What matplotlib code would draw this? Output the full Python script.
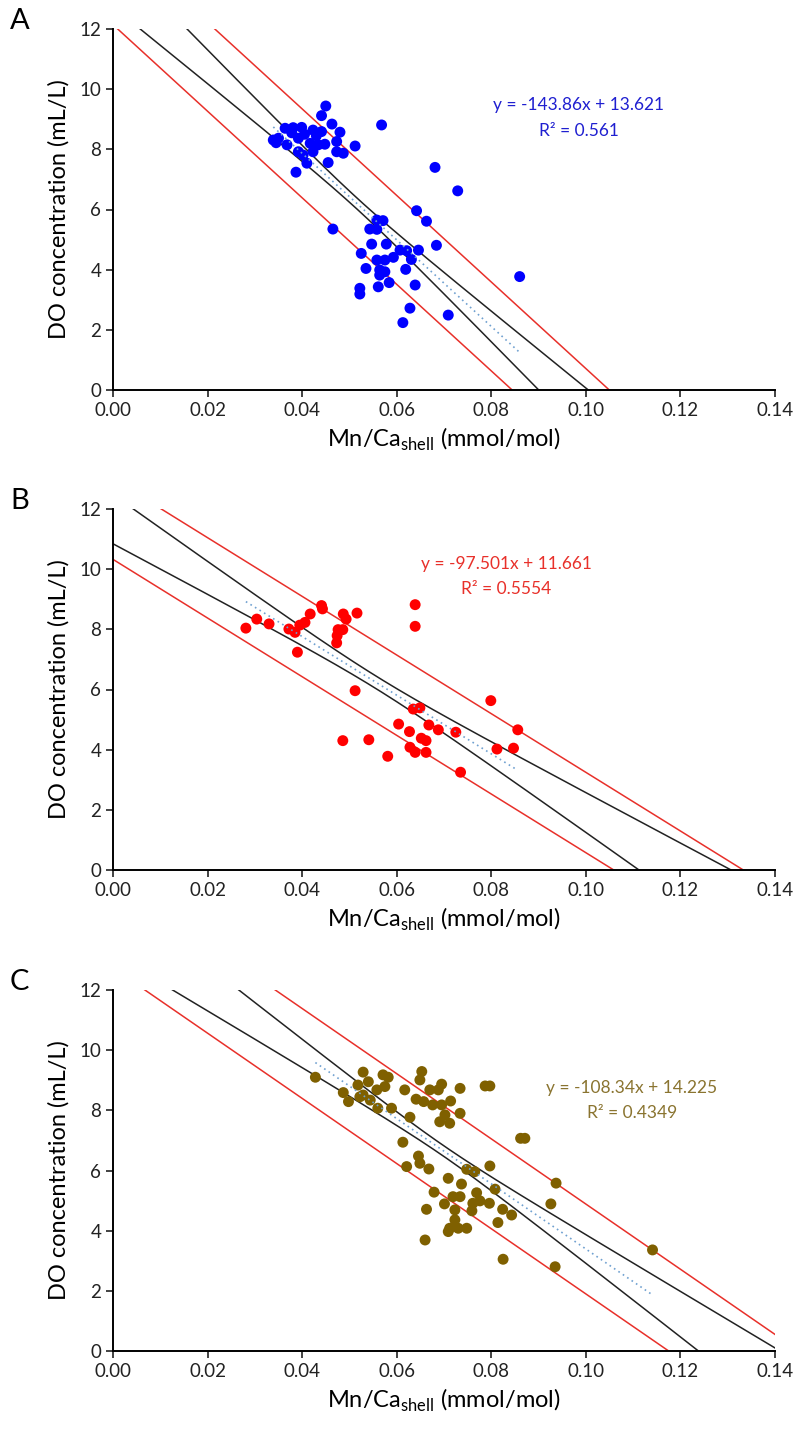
import matplotlib.pyplot as plt
import numpy as np

plt.rcParams["font.family"] = ["Lato", "DejaVu Sans"]

# Panel A: Mn/Ca (mmol/mol) vs dissolved oxygen (mL/L)
a_mnca = [0.0450, 0.0441, 0.0463, 0.0568, 0.0364, 0.0381, 0.0399, 0.0423, 0.0441, 0.0480,
          0.0339, 0.0350, 0.0368, 0.0392, 0.0417, 0.0434, 0.0448, 0.0473, 0.0512, 0.0473,
          0.0487, 0.0392, 0.0402, 0.0423, 0.0410, 0.0455, 0.0387, 0.0345, 0.0405, 0.0430,
          0.0378, 0.0681, 0.0729, 0.0860, 0.0642, 0.0663, 0.0465, 0.0558, 0.0571, 0.0543,
          0.0558, 0.0684, 0.0547, 0.0578, 0.0607, 0.0621, 0.0646, 0.0525, 0.0558, 0.0575,
          0.0593, 0.0631, 0.0535, 0.0564, 0.0575, 0.0619, 0.0564, 0.0584, 0.0561, 0.0639,
          0.0522, 0.0522, 0.0628, 0.0613, 0.0709]
a_do = [9.44, 9.12, 8.84, 8.81, 8.70, 8.72, 8.73, 8.64, 8.59, 8.57,
        8.31, 8.37, 8.15, 8.37, 8.20, 8.15, 8.17, 8.26, 8.11, 7.92,
        7.87, 7.92, 7.81, 7.92, 7.54, 7.56, 7.24, 8.22, 8.50, 8.45,
        8.55, 7.40, 6.62, 3.77, 5.96, 5.61, 5.35, 5.65, 5.63, 5.35,
        5.34, 4.81, 4.85, 4.85, 4.65, 4.63, 4.65, 4.54, 4.32, 4.32,
        4.41, 4.34, 4.04, 3.99, 3.93, 4.01, 3.82, 3.57, 3.43, 3.49,
        3.38, 3.19, 2.72, 2.24, 2.49]
a_slope, a_icept, a_r2 = -143.86, 13.621, 0.561

# Panel B
b_mnca = [0.0281, 0.0304, 0.0330, 0.0372, 0.0385, 0.0395, 0.0406, 0.0390, 0.0417, 0.0441,
          0.0443, 0.0487, 0.0493, 0.0516, 0.0476, 0.0486, 0.0474, 0.0473, 0.0639, 0.0639,
          0.0512, 0.0799, 0.0856, 0.0847, 0.0812, 0.0635, 0.0649, 0.0668, 0.0688, 0.0725,
          0.0604, 0.0627, 0.0652, 0.0662, 0.0486, 0.0541, 0.0628, 0.0639, 0.0662, 0.0581,
          0.0735]
b_do = [8.04, 8.34, 8.18, 8.01, 7.90, 8.14, 8.23, 7.24, 8.51, 8.79,
        8.68, 8.51, 8.34, 8.54, 7.99, 7.99, 7.79, 7.55, 8.82, 8.10,
        5.96, 5.63, 4.66, 4.05, 4.02, 5.35, 5.39, 4.82, 4.66, 4.58,
        4.85, 4.60, 4.38, 4.30, 4.30, 4.33, 4.08, 3.91, 3.91, 3.78,
        3.25]
b_slope, b_icept, b_r2 = -97.501, 11.661, 0.5554

# Panel C
c_mnca = [0.0428, 0.0529, 0.0518, 0.0540, 0.0571, 0.0582, 0.0575, 0.0558, 0.0529, 0.0487,
          0.0498, 0.0560, 0.0589, 0.0617, 0.0653, 0.0649, 0.0670, 0.0695, 0.0641, 0.0657,
          0.0676, 0.0628, 0.0734, 0.0714, 0.0702, 0.0734, 0.0691, 0.0712, 0.0787, 0.0797,
          0.0862, 0.0871, 0.0613, 0.0646, 0.0649, 0.0621, 0.0668, 0.0748, 0.0765, 0.0797,
          0.0709, 0.0737, 0.0679, 0.0719, 0.0734, 0.0769, 0.0808, 0.0701, 0.0723, 0.0761,
          0.0776, 0.0796, 0.0759, 0.0663, 0.0824, 0.0843, 0.0723, 0.0712, 0.0730, 0.0748,
          0.0814, 0.0709, 0.0660, 0.0825, 0.0926, 0.0937, 0.0935, 0.1141, 0.0544, 0.0522,
          0.0688, 0.0695]
c_do = [9.10, 9.27, 8.84, 8.95, 9.18, 9.10, 8.79, 8.68, 8.51, 8.59,
        8.29, 8.07, 8.07, 8.68, 9.29, 9.01, 8.68, 8.87, 8.37, 8.29,
        8.18, 7.77, 8.73, 8.31, 7.85, 7.90, 7.62, 7.57, 8.81, 8.81,
        7.07, 7.07, 6.94, 6.48, 6.24, 6.13, 6.05, 6.04, 5.96, 6.15,
        5.74, 5.55, 5.28, 5.13, 5.13, 5.26, 5.38, 4.89, 4.69, 4.91,
        4.99, 4.91, 4.66, 4.71, 4.71, 4.52, 4.36, 4.08, 4.08, 4.08,
        4.27, 3.97, 3.69, 3.05, 4.89, 5.58, 2.80, 3.36, 8.34, 8.45,
        8.68, 8.18]
c_slope, c_icept, c_r2 = -108.34, 14.225, 0.4349

panel_labels = ["A", "B", "C"]
x_ticks = [0.00, 0.02, 0.04, 0.06, 0.08, 0.10, 0.12, 0.14]
y_ticks = [0, 2, 4, 6, 8, 10, 12]


def bands(x, y, slope, icept, grid):
    """Fit line plus 1-sigma confidence half-width and standard error of estimate."""
    x = np.asarray(x)
    y = np.asarray(y)
    n = len(x)
    resid = y - (slope * x + icept)
    s = np.sqrt(np.sum(resid ** 2) / (n - 2))
    xm = x.mean()
    sxx = np.sum((x - xm) ** 2)
    fit = slope * grid + icept
    half = s * np.sqrt(1.0 / n + (grid - xm) ** 2 / sxx)
    return fit, half, s


W, H = 799, 1433
fig = plt.figure(figsize=(W / 100, H / 100), dpi=100)

panels = [
    (a_mnca, a_do, a_slope, a_icept, a_r2, "#0000ff", "#1f1fd0", (0.0985, 9.47, 8.60), 29),
    (b_mnca, b_do, b_slope, b_icept, b_r2, "#ff0000", "#e8302a", (0.0831, 10.17, 9.34), 509),
    (c_mnca, c_do, c_slope, c_icept, c_r2, "#7f6000", "#8a7430", (0.1097, 8.74, 7.92), 990),
]

grid = np.linspace(0.0, 0.14, 400)
for label, (x, y, slope, icept, r2, col, tcol, tpos, top) in zip(panel_labels, panels):
    ax = fig.add_axes([113 / W, 1 - (top + 361) / H, 662 / W, 361 / H])
    fit, half, s = bands(x, y, slope, icept, grid)

    ax.plot(grid, fit + s, color="#e8302a", lw=1.1, zorder=2)
    ax.plot(grid, fit - s, color="#e8302a", lw=1.1, zorder=2)
    ax.plot(grid, fit + half, color="#222222", lw=1.1, zorder=2)
    ax.plot(grid, fit - half, color="#222222", lw=1.1, zorder=2)

    ax.scatter(x, y, s=62, color=col, edgecolors="none", zorder=3)

    xt = np.array([min(x), max(x)])
    ax.plot(xt, slope * xt + icept, color="#6fa0d0", lw=1.2, ls=(0, (1, 2.2)), zorder=4)

    ax.text(tpos[0], tpos[1], f"y = {slope:g}x + {icept:g}", color=tcol,
            fontsize=12.5, ha="center", va="center")
    ax.text(tpos[0], tpos[2], f"R² = {r2:g}", color=tcol,
            fontsize=12.5, ha="center", va="center")

    ax.set_xlim(0, 0.14)
    ax.set_ylim(0, 12)
    ax.set_xticks(x_ticks)
    ax.set_xticklabels([f"{t:.2f}" for t in x_ticks])
    ax.set_yticks(y_ticks)
    for side in ("top", "right"):
        ax.spines[side].set_visible(False)
    for side in ("left", "bottom"):
        ax.spines[side].set_linewidth(1.4)
    ax.tick_params(direction="out", length=5, width=1.2, labelsize=13.5, colors="#222222")
    ax.set_xlabel("Mn/Ca$_{\\mathregular{shell}}$ (mmol/mol)", fontsize=17, labelpad=5)
    ax.set_ylabel("DO concentration (mL/L)", fontsize=17, labelpad=7)

    fig.text(10 / W, 1 - (top - 8) / H, label, fontsize=21, ha="left", va="center")

fig.savefig("out.png", dpi=100)
